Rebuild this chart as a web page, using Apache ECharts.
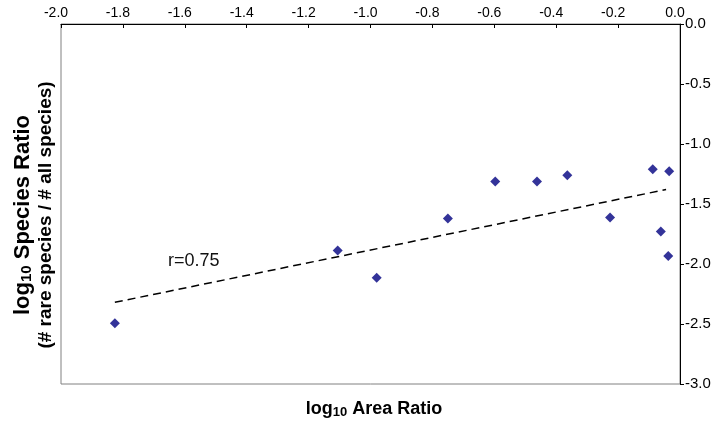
<!DOCTYPE html>
<html><head><meta charset="utf-8">
<script src="https://cdn.jsdelivr.net/npm/echarts@6/dist/echarts.min.js"></script>
<style>html,body{margin:0;padding:0;background:#fff}#c{width:714px;height:421px}</style>
</head><body><div id="c"></div>
<script>
// log10 area ratio (x) and log10 species ratio (y) for each site
const areaRatioLog    = [-1.826, -1.106, -0.980, -0.750, -0.597, -0.462, -0.364, -0.226, -0.088, -0.035, -0.062, -0.038];
const speciesRatioLog = [-2.494, -1.887, -2.114, -1.621, -1.313, -1.313, -1.261, -1.613, -1.211, -1.228, -1.729, -1.934];
const corrLabel = 'r=0.75';
const xTitle = ['log', '10', ' Area Ratio'];
const yTitle1 = ['log', '10', ' Species Ratio'];
const yTitle2 = '(# rare species / # all species)';

// least-squares trend line from the data
const n = areaRatioLog.length;
const mx = areaRatioLog.reduce((a, b) => a + b, 0) / n;
const my = speciesRatioLog.reduce((a, b) => a + b, 0) / n;
let sxy = 0, sxx = 0;
for (let i = 0; i < n; i++) { sxy += (areaRatioLog[i] - mx) * (speciesRatioLog[i] - my); sxx += (areaRatioLog[i] - mx) ** 2; }
const slope = sxy / sxx, icpt = my - slope * mx;
const xMin = Math.min(...areaRatioLog), xMax = Math.max(...areaRatioLog);
const trend = [[xMin, icpt + slope * xMin], [xMax - 0.01, icpt + slope * (xMax - 0.01)]];

const FF = 'Liberation Sans, Arial, sans-serif';
const chart = echarts.init(document.getElementById('c'));
chart.setOption({
  animation: false,
  backgroundColor: '#fff',
  grid: { left: 61, right: 34, top: 24, bottom: 37, show: true, borderColor: '#808080', borderWidth: 1, backgroundColor: 'transparent' },
  xAxis: {
    type: 'value', position: 'top', min: -2, max: 0, interval: 0.2,
    axisLine: { show: true, onZero: false, lineStyle: { color: '#000', width: 1 } },
    axisTick: { show: true, inside: true, length: 4, lineStyle: { color: '#000' } },
    axisLabel: { fontFamily: FF, fontSize: 14, color: '#000', margin: 4, padding: [0, 10, 0, 0], formatter: v => v.toFixed(1) },
    splitLine: { show: false }
  },
  yAxis: {
    type: 'value', position: 'right', min: -3, max: 0, interval: 0.5,
    axisLine: { show: true, onZero: false, lineStyle: { color: '#000', width: 1 } },
    axisTick: { show: true, inside: false, length: 4, lineStyle: { color: '#000' } },
    axisLabel: { fontFamily: FF, fontSize: 15, color: '#000', margin: 5, formatter: v => v.toFixed(1) },
    splitLine: { show: false }
  },
  series: [
    { type: 'line', data: trend, showSymbol: false, symbol: 'none',
      lineStyle: { color: '#000', width: 1.5, type: [8, 5] }, z: 2 },
    { type: 'scatter', data: areaRatioLog.map((x, i) => [x, speciesRatioLog[i]]),
      symbol: 'diamond', symbolSize: 10, itemStyle: { color: '#000080' }, z: 3 }
  ],
  graphic: [
    { type: 'text', x: 168, y: 252, style: { text: corrLabel, font: '18px ' + FF, fill: '#111' } },
    { type: 'text', x: 374, y: 409, style: {
        text: '{a|' + xTitle[0] + '}{b|' + xTitle[1] + '}{a|' + xTitle[2] + '}',
        align: 'center', verticalAlign: 'middle',
        rich: { a: { font: 'bold 18px ' + FF, fill: '#000' }, b: { font: 'bold 13px ' + FF, fill: '#000', verticalAlign: 'bottom', padding: [6, 0, 0, 0] } } } },
    { type: 'text', x: 34, y: 215, rotation: Math.PI / 2, style: {
        text: '{a|' + yTitle1[0] + '}{b|' + yTitle1[1] + '}{a|' + yTitle1[2] + '}\n{c|' + yTitle2 + '}',
        align: 'center', verticalAlign: 'middle',
        rich: {
          a: { font: 'bold 22px ' + FF, fill: '#000', lineHeight: 23, align: 'center' },
          b: { font: 'bold 15px ' + FF, fill: '#000', verticalAlign: 'bottom', padding: [7, 0, 0, 0], lineHeight: 23 },
          c: { font: 'bold 19px ' + FF, fill: '#000', lineHeight: 23, align: 'center' } } } }
  ]
});
</script></body></html>
